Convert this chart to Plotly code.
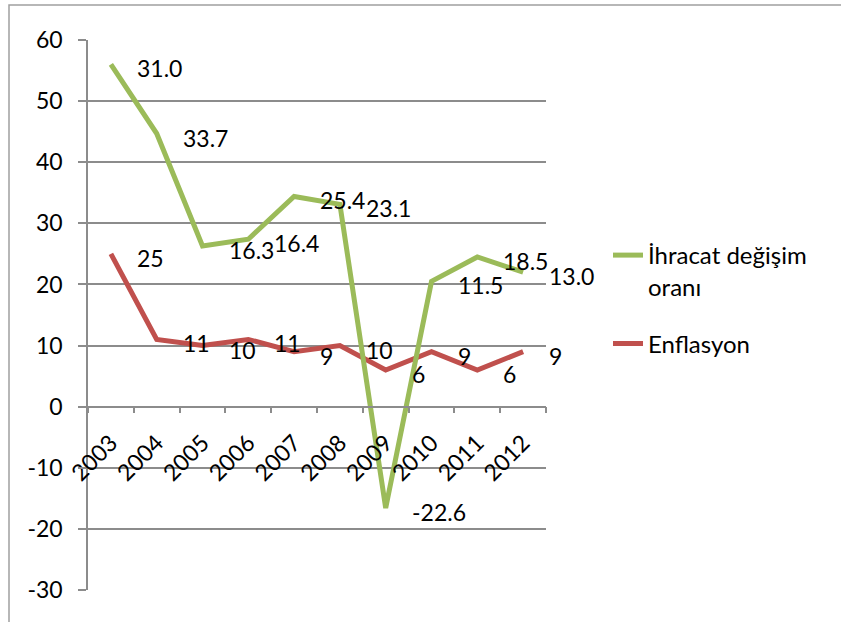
import plotly.graph_objects as go

years = ["2003", "2004", "2005", "2006", "2007", "2008", "2009", "2010", "2011", "2012"]
ihracat = [31.0, 33.7, 16.3, 16.4, 25.4, 23.1, -22.6, 11.5, 18.5, 13.0]
enflasyon = [25, 11, 10, 11, 9, 10, 6, 9, 6, 9]
y_ticks = [-30, -20, -10, 0, 10, 20, 30, 40, 50, 60]

GREEN = "#9BBB59"
RED = "#C0504D"
GRID = "#8C8C8C"
FONT = "Lato"
FS = 23

xi = list(range(len(years)))

fig = go.Figure()
fig.add_trace(go.Scatter(x=xi, y=enflasyon, name="Enflasyon", mode="lines",
                         stackgroup="s", fill="none", legendgroup="b", legendrank=2,
                         line=dict(color=RED, width=5)))
fig.add_trace(go.Scatter(x=xi, y=ihracat, name="İhracat değişim<br>oranı", mode="lines",
                         stackgroup="s", fill="none", legendgroup="a", legendrank=1,
                         line=dict(color=GREEN, width=5)))

annotations = []
stacked = [e + i for e, i in zip(enflasyon, ihracat)]
for x, v, lab in zip(xi, stacked, ihracat):
    annotations.append(dict(x=x, y=v, text=f"{lab:.1f}", showarrow=False,
                            xanchor="left", yanchor="middle", xshift=24, yshift=-4,
                            font=dict(family=FONT, size=FS, color="black")))
for x, v in zip(xi, enflasyon):
    annotations.append(dict(x=x, y=v, text=f"{v}", showarrow=False,
                            xanchor="left", yanchor="middle", xshift=24, yshift=-4,
                            font=dict(family=FONT, size=FS, color="black")))

L, R, T, B = 88, 546, 40, 590
W, H = 841, 622
pw, ph = R - L, B - T

fig.update_layout(
    width=W, height=H,
    margin=dict(l=L, r=W - R, t=T, b=H - B, autoexpand=False),
    plot_bgcolor="white", paper_bgcolor="white",
    font=dict(family=FONT, size=FS, color="black"),
    showlegend=True,
    legend=dict(x=(608 - L) / pw, y=(B - 233) / ph, xanchor="left", yanchor="top",
                traceorder="grouped", valign="top", bgcolor="rgba(0,0,0,0)",
                font=dict(family=FONT, size=24, color="black"), tracegroupgap=23),
    annotations=annotations,
    shapes=[dict(type="rect", xref="paper", yref="paper",
                 x0=(9 - L) / pw, x1=(860 - L) / pw,
                 y0=(B - 640) / ph, y1=(B - 5) / ph,
                 line=dict(color="#A0A0A0", width=1.5), fillcolor="rgba(0,0,0,0)",
                 layer="below")],
)
fig.update_xaxes(range=[-0.5, len(years) - 0.5], tickvals=xi, ticktext=years,
                 anchor="free", position=1 / 3, showline=True, linecolor=GRID, linewidth=1.5,
                 ticks="", showgrid=False, zeroline=False, automargin=False,
                 minor=dict(ticks="outside", ticklen=6, tickcolor=GRID, tickwidth=1.5,
                            tick0=-0.5, dtick=1, showgrid=False),
                 tickangle=-45, ticklabelstandoff=13,
                 tickfont=dict(family=FONT, size=FS, color="black"))
fig.update_yaxes(range=[-30, 60], tickvals=y_ticks, ticktext=[str(v) for v in y_ticks],
                 showgrid=True, gridcolor=GRID, gridwidth=1.5,
                 zeroline=False, showline=True, linecolor=GRID, linewidth=1.5, automargin=False,
                 ticks="outside", ticklen=8, tickcolor=GRID, tickwidth=1.5, ticklabelstandoff=11,
                 tickfont=dict(family=FONT, size=FS, color="black"))

fig.write_html("out.html", config={"displayModeBar": False},
               post_script="document.body.style.margin='0';")
